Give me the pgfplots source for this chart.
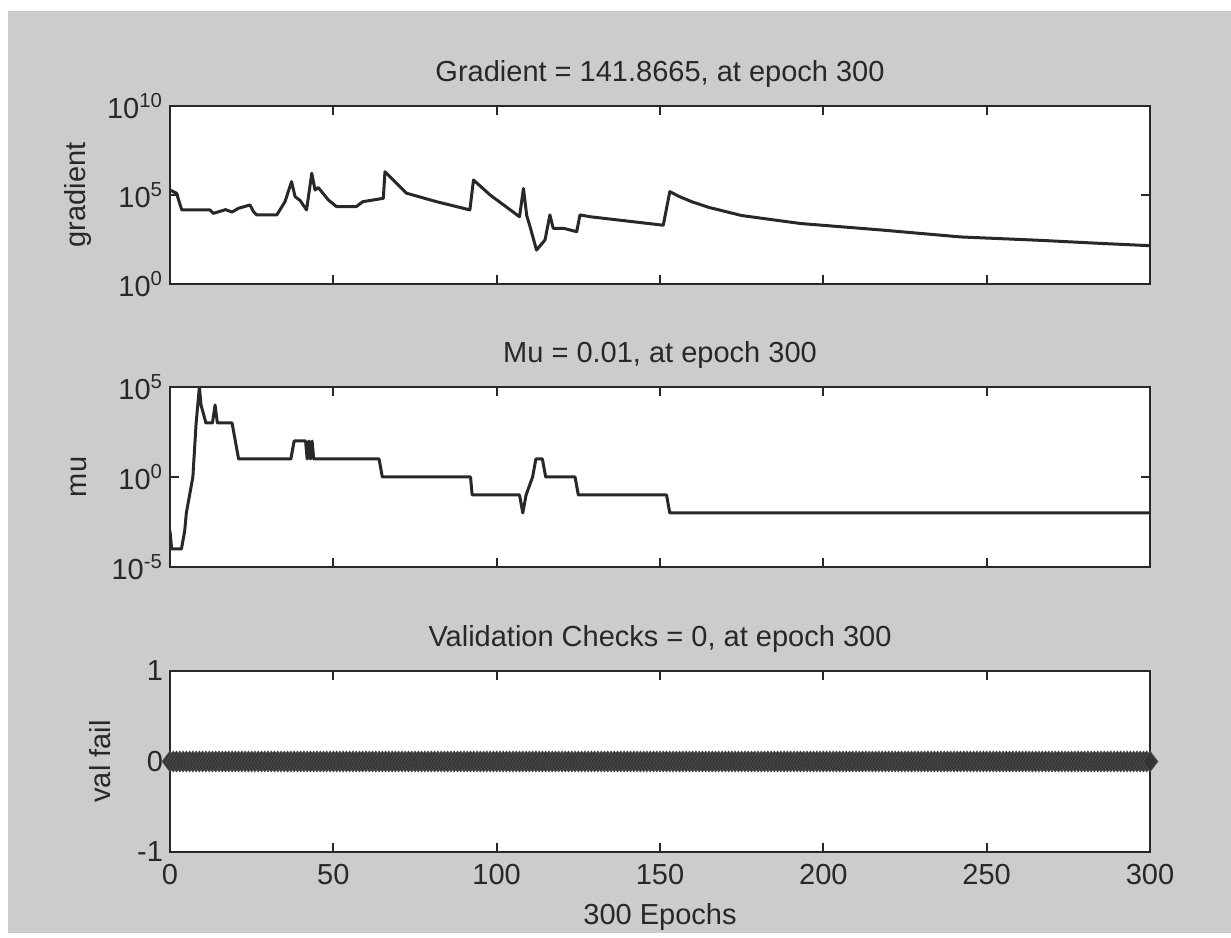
\documentclass[border=0pt]{standalone}
\usepackage{fontspec}
\setmainfont{Liberation Sans}
\usepackage{pgfplots}
\pgfplotsset{compat=1.18}
\definecolor{figgray}{RGB}{204,204,204}
\definecolor{ink}{RGB}{40,40,40}

\pgfplotsset{mlab/.style={
    scale only axis, width=490pt, anchor=south west,
    xmin=0, xmax=300, xtick={0,50,...,300},
    axis background/.style={fill=white},
    axis line style={ink, line width=1.1pt},
    every tick/.style={ink, line width=0.9pt},
    major tick length=4.5pt,
    tick label style={font=\fontsize{14.5}{16}\selectfont, text=ink},
    xticklabel style={yshift=-2.8pt},
    label style={font=\fontsize{14.5}{16}\selectfont, text=ink},
    xlabel style={yshift=-2.5pt},
    title style={font=\fontsize{14.5}{16}\selectfont, text=ink, at={(0.5,1)}, anchor=base, yshift=6pt},
    /pgf/number format/assume math mode=true,
    yminorticks=false,
}}

\begin{document}
\begin{tikzpicture}
\fill[white] (0,0) rectangle (615.5pt,466.5pt);
\fill[figgray] (4pt,0) rectangle (615.5pt,461pt);

% gradient
\begin{axis}[mlab, at={(85pt,324.5pt)}, height=89pt,
    ymode=log, ymin=1, ymax=1e10, ytick={1,1e5,1e10},
    yticklabels={10\textsuperscript{0},10\textsuperscript{5},10\textsuperscript{10}},
    xticklabels={},
    ylabel={gradient}, ylabel style={at={(axis description cs:-0.094,0.5)}, anchor=center},
    title={Gradient = 141.8665, at epoch 300}]
\addplot[ink, line width=1.5pt, line join=round] coordinates {
(0,1.9e5) (2,1.26e5) (3.6,1.45e4) (12.2,1.45e4) (13.3,9.3e3) (17,1.5e4)
(19,1.1e4) (21,1.8e4) (24.5,2.75e4) (25.5,1.2e4) (26.5,7.6e3) (32.7,7.6e3)
(35.2,4.2e4) (37.2,5.6e5) (38.3,8e4) (39.8,5e4) (41.8,1.45e4) (43.4,1.66e6)
(44.4,1.9e5) (45.4,2.6e5) (48.5,5.2e4) (51,2.2e4) (57,2.2e4) (59,4.2e4)
(65.3,6.5e4) (65.8,2e6) (67.9,8.5e5) (72.4,1.26e5) (81.6,4.2e4) (91.8,1.45e4)
(92.9,7e5) (98,1e5) (107,6e3) (108.2,2.3e5) (109.2,7e3) (110.2,1.7e3)
(112.2,80) (114.8,300) (116.3,7.6e3) (117.3,1.35e3) (120.4,1.35e3)
(124.5,870) (125.5,7.6e3) (128.6,6e3) (151,2e3) (153,1.55e5) (156,8e4)
(160,4e4) (165,2e4) (175,7e3) (193,2.5e3) (218,1.07e3) (242,440) (267,280)
(285,190) (300,141.87)
};
\end{axis}

% mu
\begin{axis}[mlab, at={(85pt,183pt)}, height=90pt,
    ymode=log, ymin=1e-5, ymax=1e5, ytick={1e-5,1,1e5},
    yticklabels={10\textsuperscript{-5},10\textsuperscript{0},10\textsuperscript{5}},
    xticklabels={},
    ylabel={mu}, ylabel style={at={(axis description cs:-0.093,0.5)}, anchor=center},
    title={Mu = 0.01, at epoch 300}]
\addplot[ink, line width=1.5pt, line join=round] coordinates {
(0,1e-3) (0.5,1e-4) (3.5,1e-4) (4.5,1e-3) (5,1e-2) (6,1e-1) (7,1) (8,1e3)
(9,1e5) (9.5,1e4) (11,1e3) (13,1e3) (13.8,1e4) (14.5,1e3) (19,1e3) (20,100)
(21,10) (37,10) (38,100) (41.5,100) (42,10) (42.5,100) (43,10) (43.5,100)
(44,10) (64,10) (65,1) (92,1) (92.5,0.1) (107,0.1) (108,0.01) (109,0.1)
(111,1) (112,10) (114,10) (115,1) (124,1) (125,0.1) (152,0.1) (153,0.01)
(300,0.01)
};
\end{axis}

% validation checks
\begin{axis}[mlab, at={(85pt,40.5pt)}, height=90.5pt, clip=false,
    ymin=-1, ymax=1, ytick={-1,0,1},
    xlabel={300 Epochs},
    ylabel={val fail}, ylabel style={at={(axis description cs:-0.0714,0.5)}, anchor=center},
    title={Validation Checks = 0, at epoch 300}]
\addplot[ink, line width=0.8pt, mark=diamond*, mark size=5pt,
    mark options={fill=black!80, draw=black!72, line width=0.6pt}] coordinates {
(0,0)(1,0)(2,0)(3,0)(4,0)(5,0)(6,0)(7,0)(8,0)(9,0)(10,0)(11,0)(12,0)(13,0)(14,0)
(15,0)(16,0)(17,0)(18,0)(19,0)(20,0)(21,0)(22,0)(23,0)(24,0)(25,0)(26,0)(27,0)
(28,0)(29,0)(30,0)(31,0)(32,0)(33,0)(34,0)(35,0)(36,0)(37,0)(38,0)(39,0)(40,0)
(41,0)(42,0)(43,0)(44,0)(45,0)(46,0)(47,0)(48,0)(49,0)(50,0)(51,0)(52,0)(53,0)
(54,0)(55,0)(56,0)(57,0)(58,0)(59,0)(60,0)(61,0)(62,0)(63,0)(64,0)(65,0)(66,0)
(67,0)(68,0)(69,0)(70,0)(71,0)(72,0)(73,0)(74,0)(75,0)(76,0)(77,0)(78,0)(79,0)
(80,0)(81,0)(82,0)(83,0)(84,0)(85,0)(86,0)(87,0)(88,0)(89,0)(90,0)(91,0)(92,0)
(93,0)(94,0)(95,0)(96,0)(97,0)(98,0)(99,0)(100,0)(101,0)(102,0)(103,0)(104,0)
(105,0)(106,0)(107,0)(108,0)(109,0)(110,0)(111,0)(112,0)(113,0)(114,0)(115,0)
(116,0)(117,0)(118,0)(119,0)(120,0)(121,0)(122,0)(123,0)(124,0)(125,0)(126,0)
(127,0)(128,0)(129,0)(130,0)(131,0)(132,0)(133,0)(134,0)(135,0)(136,0)(137,0)
(138,0)(139,0)(140,0)(141,0)(142,0)(143,0)(144,0)(145,0)(146,0)(147,0)(148,0)
(149,0)(150,0)(151,0)(152,0)(153,0)(154,0)(155,0)(156,0)(157,0)(158,0)(159,0)
(160,0)(161,0)(162,0)(163,0)(164,0)(165,0)(166,0)(167,0)(168,0)(169,0)(170,0)
(171,0)(172,0)(173,0)(174,0)(175,0)(176,0)(177,0)(178,0)(179,0)(180,0)(181,0)
(182,0)(183,0)(184,0)(185,0)(186,0)(187,0)(188,0)(189,0)(190,0)(191,0)(192,0)
(193,0)(194,0)(195,0)(196,0)(197,0)(198,0)(199,0)(200,0)(201,0)(202,0)(203,0)
(204,0)(205,0)(206,0)(207,0)(208,0)(209,0)(210,0)(211,0)(212,0)(213,0)(214,0)
(215,0)(216,0)(217,0)(218,0)(219,0)(220,0)(221,0)(222,0)(223,0)(224,0)(225,0)
(226,0)(227,0)(228,0)(229,0)(230,0)(231,0)(232,0)(233,0)(234,0)(235,0)(236,0)
(237,0)(238,0)(239,0)(240,0)(241,0)(242,0)(243,0)(244,0)(245,0)(246,0)(247,0)
(248,0)(249,0)(250,0)(251,0)(252,0)(253,0)(254,0)(255,0)(256,0)(257,0)(258,0)
(259,0)(260,0)(261,0)(262,0)(263,0)(264,0)(265,0)(266,0)(267,0)(268,0)(269,0)
(270,0)(271,0)(272,0)(273,0)(274,0)(275,0)(276,0)(277,0)(278,0)(279,0)(280,0)
(281,0)(282,0)(283,0)(284,0)(285,0)(286,0)(287,0)(288,0)(289,0)(290,0)(291,0)
(292,0)(293,0)(294,0)(295,0)(296,0)(297,0)(298,0)(299,0)(300,0)
};
\end{axis}
\end{tikzpicture}
\end{document}
